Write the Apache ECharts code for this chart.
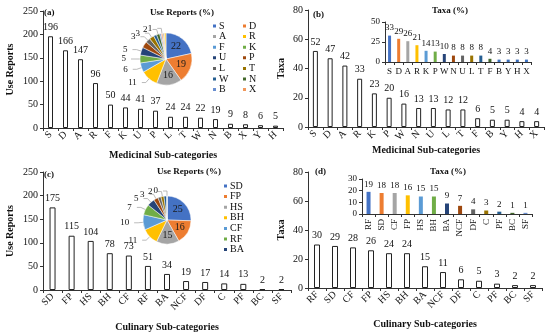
<!DOCTYPE html>
<html><head><meta charset="utf-8">
<script src="https://cdn.jsdelivr.net/npm/echarts@6/dist/echarts.min.js"></script>
<style>html,body{margin:0;padding:0;background:#fff}#c{width:550px;height:333px}</style>
</head><body><div id="c"></div>
<script>
// ---- data ----
const medCatsA = ['S','D','A','R','F','K','U','P','L','T','W','N','B','X','Y','H'];
const medUseReports = [196,166,147,96,50,44,41,37,24,24,22,19,9,8,6,5];
const medPiePct = [22,19,16,11,6,5,5,4,3,3,2,2,1,1,1,1];
const medLegendLeft = ['S','A','F','U','L','W','B'];
const medLegendRight = ['D','R','K','P','T','N','X'];
const medCatsB = ['S','D','A','R','K','P','W','N','U','L','T','F','B','Y','H','X'];
const medTaxa = [52,47,42,33,23,20,16,13,13,12,12,6,5,5,4,4];
const medTaxaPct = [33,29,26,21,14,13,10,8,8,8,8,4,3,3,3,3];
const culCatsC = ['SD','FP','HS','BH','CF','RF','BA','NCF','DF','C','PF','BC','SF'];
const culUseReports = [175,115,104,78,73,51,34,19,17,14,13,2,2];
const culPiePct = [25,16,15,11,10,7,5,3,2,2,2,0,0];
const culLegend = ['SD','FP','HS','BH','CF','RF','BA'];
const culCatsD = ['RF','SD','CF','FP','HS','BH','BA','NCF','DF','C','PF','BC','SF'];
const culTaxa = [30,29,28,26,24,24,15,11,6,5,3,2,2];
const culTaxaPct = [19,18,18,16,15,15,9,7,4,3,2,1,1];
// axis ranges
const useReportsAxis = {min:0, max:250, interval:50};
const taxaAxis = {min:0, max:80, interval:20};
const medPctAxis = {min:0, max:50, interval:25};
const culPctAxis = {min:0, max:30, interval:10};

// ---- styles ----
const FONT = 'Liberation Serif';
const officeColors = ['#4472C4','#ED7D31','#A5A5A5','#FFC000','#5B9BD5','#70AD47','#264478','#9E480E','#636363','#997300','#255E91','#43682B','#698ED0','#F1975A','#B7B7B7','#FFCD33'];
const insetBColors = ['#4472C4','#ED7D31','#A5A5A5','#FFC000','#5B9BD5','#70AD47','#264478','#9E480E','#636363','#997300','#255E91','#43682B','#3F74C2','#3A6DB8','#3A6DB8','#3F74C2'];
const AX = '#333';

function txt(size, bold){ return {fontFamily:FONT, fontSize:size, color:'#111', fontWeight: bold?'bold':'normal'}; }

function catAxis(gi, data, rotate, size){
  return {type:'category', gridIndex:gi, data:data,
    axisLine:{lineStyle:{color:AX, width:1}},
    axisTick:{show:true, length:3, lineStyle:{color:AX}},
    axisLabel:Object.assign({interval:0, rotate:rotate, margin:5}, txt(size))};
}
function valAxis(gi, rng, size, name, gap){
  const a = {type:'value', gridIndex:gi, min:rng.min, max:rng.max, interval:rng.interval,
    axisLine:{show:true, lineStyle:{color:AX}},
    axisTick:{show:true, length:3, lineStyle:{color:AX}},
    splitLine:{show:false},
    axisLabel:Object.assign({margin:5}, txt(size))};
  if(name){ a.name=name; a.nameLocation='middle'; a.nameGap=gap; a.nameTextStyle=txt(10,true); }
  return a;
}
function outlineBars(xi, yi, data, w){
  return {type:'bar', xAxisIndex:xi, yAxisIndex:yi, data:data, barWidth:w, silent:true,
    itemStyle:{color:'#fff', borderColor:'#222', borderWidth:1},
    label:Object.assign({show:true, position:'top', distance:4}, txt(10))};
}
function colorBars(xi, yi, data, colors, w){
  return {type:'bar', xAxisIndex:xi, yAxisIndex:yi, barWidth:w, silent:true,
    data:data.map((v,i)=>({value:v, itemStyle:{color:colors[i]}})),
    label:Object.assign({show:true, position:'top', distance:3}, txt(9))};
}
function pieData(names, vals, nInside){
  return vals.map((v,i)=>{
    const d = {name:names[i], value:v, itemStyle:{color:officeColors[i]}};
    if(i<nInside){ d.label={position:'inside', fontFamily:FONT, fontSize:10, color:'#1a1a1a'}; d.labelLine={show:false}; }
    return d;
  });
}
function pie(center, r, data){
  return {type:'pie', center:center, radius:r, startAngle:90, clockwise:true, data:data,
    avoidLabelOverlap:false, minShowLabelAngle:0, silent:true,
    itemStyle:{borderColor:'#fff', borderWidth:0.5},
    label:Object.assign({show:true, position:'outside', formatter:'{c}'}, txt(9)),
    labelLine:{show:true, length:5, length2:4, lineStyle:{color:'#aaa', width:0.8}}};
}
function legend(names, left, top){
  return {data:names, orient:'vertical', left:left, top:top, itemWidth:5, itemHeight:5, itemGap:0.6,
    icon:'rect', padding:0, selectedMode:false, textStyle:Object.assign({padding:[0,0,0,-3]}, txt(10))};
}
function title(text, left, top, size){
  return {text:text, left:left, top:top, padding:0, textStyle:txt(size,true)};
}

const chart = echarts.init(document.getElementById('c'), null, {renderer:'canvas'});
chart.setOption({
  animation:false,
  backgroundColor:'#fff',
  title:[
    title('(a)',44,8,9), title('(b)',313,10,9), title('(c)',44,170,9), title('(d)',315,167,9),
    title('Use Reports (%)',150,8,9), title('Taxa (%)',432,6,9),
    title('Use Reports (%)',157,167,9), title('Taxa (%)',430,167,9)
  ],
  legend:[ legend(medLegendLeft,211,21), legend(medLegendRight,241,21), legend(culLegend,222,181) ],
  grid:[
    {left:43, top:11, width:240, height:117},
    {left:308, top:10, width:236, height:117},
    {left:385, top:22, width:146, height:40},
    {left:43, top:172, width:248, height:119},
    {left:308, top:172, width:234, height:116},
    {left:362, top:179, width:170, height:35}
  ],
  xAxis:[
    Object.assign(catAxis(0, medCatsA, 45, 10), {name:'Medicinal Sub-categories', nameLocation:'middle', nameGap:22, nameTextStyle:txt(10,true)}),
    Object.assign(catAxis(1, medCatsB, 45, 10), {name:'Medicinal Sub-categories', nameLocation:'middle', nameGap:14, nameTextStyle:txt(10,true)}),
    Object.assign(catAxis(2, medCatsB, 0, 9), {}),
    Object.assign(catAxis(3, culCatsC, 45, 10), {name:'Culinary Sub-categories', nameLocation:'middle', nameGap:32, nameTextStyle:txt(10,true)}),
    Object.assign(catAxis(4, culCatsD, 45, 10), {name:'Culinary Sub-categories', nameLocation:'middle', nameGap:31, nameTextStyle:txt(10,true)}),
    Object.assign(catAxis(5, culCatsD, 90, 9), {})
  ],
  yAxis:[
    valAxis(0, useReportsAxis, 10, 'Use Reports', 28),
    valAxis(1, taxaAxis, 10, 'Taxa', 22),
    valAxis(2, medPctAxis, 9),
    valAxis(3, useReportsAxis, 10, 'Use Reports', 28),
    valAxis(4, taxaAxis, 10, 'Taxa', 22),
    valAxis(5, culPctAxis, 9)
  ],
  series:[
    outlineBars(0,0,medUseReports,5),
    outlineBars(1,1,medTaxa,5),
    colorBars(2,2,medTaxaPct,insetBColors,3),
    outlineBars(3,3,culUseReports,6),
    outlineBars(4,4,culTaxa,6),
    colorBars(5,5,culTaxaPct,officeColors,4),
    pie([166,59], 26, pieData(medCatsA, medPiePct, 3)),
    pie([167,220], 24, pieData(culCatsC, culPiePct, 3))
  ]
});
</script></body></html>
